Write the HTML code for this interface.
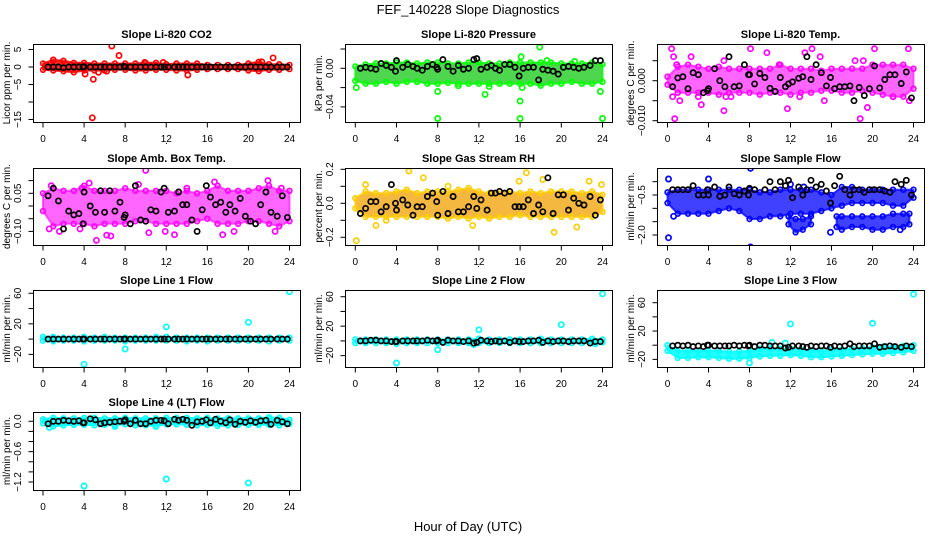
<!DOCTYPE html>
<html><head><meta charset="utf-8">
<style>
html,body{margin:0;padding:0;background:#fff;}
svg{display:block;font-family:"Liberation Sans",Arial,sans-serif;}
</style></head>
<body>
<svg id="chart" width="936" height="540" viewBox="0 0 936 540" xmlns="http://www.w3.org/2000/svg">
<rect x="0" y="0" width="936" height="540" fill="#fff"/>
<text x="468" y="14" text-anchor="middle" font-size="13">FEF_140228  Slope Diagnostics</text>
<text x="468" y="531" text-anchor="middle" font-size="13">Hour of Day (UTC)</text>
<g id="plots"></g>
</svg>
<script>
// ---------- shared data ----------
const xTicks = [0,4,8,12,16,20,24];
const hours = [0,1,2,3,4,5,6,7,8,9,10,11,12,13,14,15,16,17,18,19,20,21,22,23,24];
const blkX = [0.5,1,1.5,2,2.5,3,3.5,3.9,4,4.6,5.1,5.6,6,6.5,7,7.5,7.9,8,8.5,9,9.5,10,10.5,11,11.5,11.8,12.2,12.8,13.2,13.6,14,14.5,15,15.5,15.9,16.3,16.8,17.3,17.8,18.2,18.7,19.2,19.7,20.2,20.7,21.2,21.7,22.2,22.8,23.3,23.8];

// ---------- CO2 ----------
const co2Ticks = [5,0,-5,-10,-15];
const co2Labels = ['5','0','−5','','−15'];
const co2Hi = [1,2,1.8,1.2,1.2,1,1,1,1,1,1.2,1.2,0.8,1,1,1,0.6,0.6,0.6,0.6,1,1.5,0.8,0.8,0.6];
const co2Lo = [-0.8,-1,-1.2,-1.5,-1,-1,-1,-0.8,-0.8,-1,-1,-0.8,-0.8,-1,-1,-0.8,-0.6,-0.6,-0.6,-0.6,-1,-1.2,-0.8,-0.8,-0.6];
const co2OutX = [6.7,7.4,4.9,4.8,4.1,5.4,14.1,22.4,21.3,1,9.9,11.7,6.2];
const co2OutY = [6,3.3,-3.5,-14.5,-2,-1.5,-2.3,2.6,1.5,2,1.3,1.3,-1.2];
const co2Blk = [0,0,0,-0.2,0,0,0,0,0.1,0,0,0,0,0,0,0,0.2,0,0,0,0,0,0,0,0,0,0,0,0,0,0,0,0,0,0,0,0,0,0,0,0,0,0,0.1,0,0,0,0,0,0,0];

// ---------- Pressure ----------
const presTicks = [0.02,0,-0.02,-0.04];
const presLabels = ['','0.00','','−0.04'];
const presHi = [0.002,0.004,0.005,0.005,0.006,0.006,0.005,0.006,0.006,0.005,0.005,0.006,0.006,0.005,0.005,0.006,0.006,0.006,0.006,0.006,0.005,0.005,0.005,0.006,0.004];
const presLo = [-0.013,-0.016,-0.016,-0.014,-0.016,-0.014,-0.014,-0.016,-0.016,-0.015,-0.016,-0.016,-0.016,-0.016,-0.016,-0.016,-0.016,-0.016,-0.018,-0.016,-0.016,-0.014,-0.016,-0.016,-0.014];
const presOutX = [0.1,8,8,12.6,16,16,16.1,16.2,17.9,23.8,24,18.6,21.3,10,13];
const presOutY = [-0.02,-0.024,-0.052,-0.027,-0.034,-0.052,0.012,-0.02,0.022,-0.024,-0.052,0.008,0.007,-0.018,-0.019];
const presBlk = [0,0.001,0,-0.001,0.005,0.003,0.001,-0.003,0.008,0.001,0.004,0.002,0,-0.002,0.002,0.004,0.001,-0.001,0.009,0.002,-0.003,0.003,-0.001,0,0.009,0.01,-0.001,0.001,0.003,0,-0.002,0.004,0.004,0.001,-0.008,0,0.001,0.001,-0.012,-0.001,-0.002,-0.003,-0.006,0.001,0.002,0.001,0,0.001,0.003,0.008,0.008];

// ---------- Li-820 Temp ----------
const tempTicks = [0.005,0,-0.005,-0.01];
const tempLabels = ['','0.000','','−0.010'];
const tempHi = [0.001,0.0035,0.004,0.0035,0.003,0.0035,0.003,0.003,0.003,0.003,0.003,0.004,0.003,0.003,0.003,0.0025,0.003,0.003,0.003,0.003,0.004,0.004,0.004,0.004,0.003];
const tempLo = [-0.001,-0.003,-0.003,-0.003,-0.003,-0.0035,-0.003,-0.003,-0.003,-0.0035,-0.003,-0.003,-0.0035,-0.003,-0.003,-0.0025,-0.0025,-0.003,-0.003,-0.0025,-0.003,-0.0035,-0.004,-0.004,-0.002];
const tempOutX = [0.4,0.6,0.7,0.9,1.2,2.3,3.3,5.5,5.5,5.7,6.2,8.1,9.7,11.7,13.4,14.1,14.9,15.3,18.3,18.8,19.1,19.5,20.2,23.5,23.6,22,0.5,3,10.9,12.9];
const tempOutY = [0.008,0.006,-0.0095,0.004,-0.005,0.006,-0.006,0.005,-0.0075,-0.004,-0.004,0.008,0.007,-0.007,0.007,0.008,0.006,-0.005,0.005,-0.0095,0.005,-0.0067,0.008,0.008,-0.005,-0.004,-0.004,-0.004,0.004,-0.004];
const tempBlk = [-0.0015,0.0007,0.001,-0.002,0.002,0.0015,-0.003,-0.0025,-0.002,0.003,0,-0.0015,0.006,-0.0015,-0.0013,0.004,0.0015,0.0015,-0.0008,0.0018,0.0008,-0.0019,-0.0027,0.0008,-0.0015,-0.0008,-0.0003,0.0006,0.001,0.006,0.0003,0.004,0.002,-0.0013,0.0008,-0.002,-0.0015,-0.0015,-0.0013,-0.005,-0.0017,-0.0037,-0.002,0.0037,-0.0018,0.0003,0.0015,0.0015,-0.0007,0.0022,-0.0043];

// ---------- Amb. Box Temp ----------
const ambTicks = [0.1,0.05,0,-0.05,-0.1];
const ambLabels = ['','0.05','','','−0.10'];
const ambHi = [0.05,0.07,0.06,0.06,0.08,0.06,0.06,0.06,0.07,0.06,0.06,0.06,0.06,0.05,0.06,0.05,0.06,0.08,0.06,0.06,0.06,0.07,0.08,0.06,0.06];
const ambLo = [-0.02,-0.08,-0.07,-0.07,-0.07,-0.08,-0.07,-0.07,-0.07,-0.06,-0.06,-0.07,-0.07,-0.07,-0.07,-0.06,-0.05,-0.07,-0.07,-0.07,-0.06,-0.06,-0.07,-0.08,-0.06];
const ambOutX = [1.6,3.6,5.2,6.2,6.6,10,10.3,12.8,16.7,17.5,18.6,21.9,22.6,4.5,3.8,14,23.2,0.6,0.8,9.3,11.9];
const ambOutY = [-0.1,-0.09,-0.135,-0.115,-0.118,0.14,-0.105,-0.113,0.095,-0.113,-0.1,0.1,-0.1,0.09,0.07,0.07,0.07,-0.09,0.08,0.085,-0.1];
const ambBlk = [0.04,0.07,0.02,-0.09,-0.02,-0.035,-0.03,-0.07,0.055,0,-0.025,0.06,-0.025,0.06,-0.02,0.015,-0.045,-0.035,-0.07,0.08,-0.055,-0.06,-0.015,-0.02,0.055,0.07,-0.025,-0.02,0.055,0.005,0.005,-0.055,-0.1,-0.015,0.08,0.035,0.005,0.015,-0.025,0.005,-0.02,0.03,-0.04,-0.06,-0.07,0.005,0.055,-0.025,-0.04,0.04,-0.045];

// ---------- Gas Stream RH ----------
const rhTicks = [0.2,0.1,0,-0.1,-0.2];
const rhLabels = ['0.2','','0.0','','−0.2'];
const rhHi = [0.03,0.07,0.06,0.06,0.07,0.08,0.06,0.07,0.07,0.07,0.08,0.09,0.07,0.06,0.07,0.07,0.06,0.07,0.06,0.07,0.07,0.07,0.06,0.07,0.05];
const rhLo = [-0.03,-0.08,-0.08,-0.08,-0.08,-0.08,-0.08,-0.08,-0.08,-0.09,-0.08,-0.09,-0.08,-0.09,-0.08,-0.08,-0.07,-0.08,-0.08,-0.08,-0.08,-0.08,-0.08,-0.08,-0.05];
const rhOutX = [0.1,5.2,6.6,16.6,19.3,2,21.5,1,23.9,18.2,22.7,11.4,15.9,3,9];
const rhOutY = [-0.22,0.19,0.15,0.18,-0.17,-0.13,-0.14,0.11,0.11,0.14,0.13,-0.13,0.13,-0.1,0.1];
const rhBlk = [-0.06,-0.03,0.01,0.01,-0.05,-0.02,0.11,0,-0.04,0.02,-0.01,-0.07,-0.02,-0.02,0.04,0.06,0.01,-0.07,0.07,-0.06,0.04,-0.05,-0.05,-0.02,0.04,-0.03,0.02,-0.04,0.06,0.06,0.07,0.06,0.07,-0.02,-0.02,-0.02,0.02,-0.06,-0.01,-0.05,0.15,-0.06,0.05,0.05,-0.04,0.03,0,-0.01,0.04,-0.07,0.02];

// ---------- Sample Flow ----------
const flowTicks = [0,-0.5,-1,-1.5,-2];
const flowLabels = ['','−0.5','','','−2.0'];
const flowHi = [-0.4,-0.3,-0.3,-0.3,-0.3,-0.3,-0.3,-0.3,-0.3,-0.4,-0.4,-0.3,-0.3,-0.3,-0.3,-0.4,-0.5,-0.2,-0.2,-0.3,-0.3,-0.3,-0.3,-0.3,-0.3];
const flowLo = [-0.8,-1.2,-1.2,-1.2,-1.2,-1.1,-1.0,-1.1,-1.4,-1.4,-1.3,-1.3,-1.2,-1.2,-1.2,-1.1,-1.0,-0.9,-0.8,-0.8,-0.8,-0.8,-0.9,-0.9,-0.6];
const flowLowAX = [11.8,12.5,13.2,14];
const flowLowAHi = [-1.3,-1.4,-1.4,-1.3];
const flowLowALo = [-1.6,-1.9,-1.8,-1.6];
const flowLowBX = [16.5,17,18,19,20,21,22,23,23.6];
const flowLowBHi = [-1.3,-1.3,-1.3,-1.3,-1.3,-1.3,-1.2,-1.2,-1.2];
const flowLowBLo = [-1.7,-1.8,-1.7,-1.7,-1.8,-1.8,-1.7,-1.7,-1.6];
const flowOutX = [0.1,0.1,4,8.1,8.1,12,13.3,15.9,22.7,0.6];
const flowOutY = [0.1,-2.1,0.1,0.5,-2.45,-0.1,-0.2,-1.9,-1.8,-1.3];
const flowBlk = [-0.3,-0.3,-0.3,-0.3,-0.15,-0.5,-0.5,-0.3,-0.5,-0.2,-0.55,-0.5,-0.2,-0.45,-0.5,-0.35,-0.5,-0.25,-0.3,0.6,-0.3,0,-0.3,0,-0.15,0.05,-0.6,-0.2,-0.5,-0.3,0.05,-0.2,-0.1,-0.35,-0.8,-0.15,0.2,-0.3,-0.5,-0.3,-0.3,-0.4,-0.3,-0.3,-0.3,-0.35,-0.4,0,-0.1,0.05,-0.5];

// ---------- Line 1 ----------
const lineTicks = [60,40,20,0,-20];
const lineLabels = ['60','','20','','−20'];
const l1Hi = [3,3,2,2,3,2,3,2,2,2,2,3,3,2,2,2,2,2,2,2,2,2,2,2,2];
const l1Lo = [-2,-3,-2,-2,-3,-2,-2,-2,-3,-2,-2,-2,-2,-2,-3,-2,-3,-2,-2,-2,-2,-2,-3,-2,-2];
const l1OutX = [4,8,12,20,24];
const l1OutY = [-33,-13,16,22,62];
const l1Blk = [0,0,0,0,0,0,0,0,0,0,0,0,0,0,0,0,0,0,0,0,0,0,0,0,0,0,0,0,0,0,0,0,0,0,0,0,0,0,0,0,0,0,0,0,0,0,0,0,0,0,0];

// ---------- Line 2 ----------
const l2Hi = [2,2,2,2,2,2,2,2,2,2,2,2,3,2,2,2,2,2,3,2,2,2,2,3,2];
const l2Lo = [-3,-3,-3,-3,-4,-3,-3,-3,-3,-3,-3,-3,-3,-3,-3,-3,-3,-3,-3,-3,-3,-3,-3,-3,-2];
const l2OutX = [4,8,12,20,24,11.5,23.3];
const l2OutY = [-30,-12,15,22,64,-5,-4];
const l2Blk = [0,0,1,1,0,0,-1,-1,-1,0,0,0,0,0,1,0,0,1,-2,1,0,0,-1,0,-3,-2,1,0,-1,0,-1,0,-2,0,-1,-1,0,0,1,-2,0,-1,0,0,-1,0,0,0,-3,-1,-1];

// ---------- Line 3 ----------
const l3Hi = [0,-8,-8,-8,-8,-8,-9,-9,-8,-5,-5,-5,-5,-6,-7,-8,-6,-6,-5,-4,-3,-2,-2,-1,0];
const l3Lo = [-8,-18,-18,-17,-17,-18,-19,-19,-18,-16,-15,-15,-14,-15,-17,-17,-16,-15,-14,-13,-12,-12,-11,-10,-8];
const l3OutX = [8,12,20,24,11.5,10.2];
const l3OutY = [-25,30,31,72,3,4];
const l3Blk = [-1,0,-1,0,-2,-1,-2,0,0,-1,-1,-1,-1,0,-1,0,-1,0,-2,0,0,-1,-1,-1,-4,-3,-1,-1,-2,-3,-1,-2,-1,-1,-3,-1,-2,-1,2,-2,-1,-1,-1,2,-3,-2,-1,-2,-3,-1,-2];

// ---------- Line 4 ----------
const l4Ticks = [0,-0.2,-0.4,-0.6,-0.8,-1,-1.2];
const l4Labels = ['0.0','','','−0.6','','','−1.2'];
const l4Hi = [0.04,0.07,0.06,0.06,0.07,0.07,0.06,0.06,0.07,0.06,0.06,0.06,0.07,0.07,0.07,0.06,0.07,0.06,0.06,0.06,0.06,0.06,0.08,0.07,0.03];
const l4Lo = [-0.04,-0.1,-0.08,-0.07,-0.07,-0.08,-0.07,-0.07,-0.06,-0.08,-0.08,-0.09,-0.06,-0.06,-0.07,-0.08,-0.07,-0.09,-0.08,-0.07,-0.07,-0.07,-0.07,-0.08,-0.05];
const l4OutX = [4,12,20,0.6,11,7];
const l4OutY = [-1.28,-1.14,-1.22,-0.12,-0.1,-0.1];
const l4Blk = [-0.05,0,0,0.02,0.01,0,0.01,-0.03,-0.03,0.05,0.03,-0.05,-0.03,-0.02,-0.01,0,0,0.03,-0.05,0.02,-0.05,-0.05,0,0.02,0.02,0.01,-0.05,0.04,0.02,0.04,0.02,-0.08,-0.01,0,0.03,-0.03,0.04,0,-0.03,0.03,-0.06,0,-0.02,0.01,-0.02,0.01,0.02,-0.06,0.02,-0.01,-0.05];

// ---------- layout (not data) ----------
const cols = [{L:33,R:300,x0:43,x24:289.5},{L:345,R:612,x0:355.3,x24:602.5},{L:657,R:924,x0:667.5,x24:913.5}];
const rows = [{T:44,B:122},{T:168,B:245},{T:290,B:367},{T:412,B:490}];

const panels = [
 {name:'co2',title:'Slope Li-820 CO2',ylab:'Licor ppm per min.',c:0,r:0,color:'#ff0000',fill:'#ff0000',op:0.85,v0:0,p0:67,v1:5,p1:49.5,ticks:co2Ticks,labels:co2Labels,bands:[[hours,co2Hi,co2Lo]],ox:co2OutX,oy:co2OutY,blk:co2Blk},
 {name:'pressure',title:'Slope Li-820 Pressure',ylab:'kPa per min.',c:1,r:0,color:'#00ff00',fill:'#22cc22',op:0.8,v0:0,p0:68.3,v1:0.02,p1:49,ticks:presTicks,labels:presLabels,bands:[[hours,presHi,presLo]],ox:presOutX,oy:presOutY,blk:presBlk},
 {name:'li820-temp',title:'Slope Li-820 Temp.',ylab:'degrees C per min.',c:2,r:0,color:'#ff00ff',fill:'#ff00ff',op:0.6,v0:0,p0:80.7,v1:0.005,p1:60.7,ticks:tempTicks,labels:tempLabels,bands:[[hours,tempHi,tempLo]],ox:tempOutX,oy:tempOutY,blk:tempBlk},
 {name:'amb-box-temp',title:'Slope Amb. Box Temp.',ylab:'degrees C per min.',c:0,r:1,color:'#ff00ff',fill:'#ff00ff',op:0.6,v0:0,p0:206,v1:0.05,p1:193.3,ticks:ambTicks,labels:ambLabels,bands:[[hours,ambHi,ambLo]],ox:ambOutX,oy:ambOutY,blk:ambBlk},
 {name:'gas-stream-rh',title:'Slope Gas Stream RH',ylab:'percent per min.',c:1,r:1,color:'#ffcc00',fill:'#f0a000',op:0.75,v0:0,p0:203.3,v1:0.1,p1:186.3,ticks:rhTicks,labels:rhLabels,bands:[[hours,rhHi,rhLo]],ox:rhOutX,oy:rhOutY,blk:rhBlk},
 {name:'sample-flow',title:'Slope Sample Flow',ylab:'ml/min per min.',c:2,r:1,color:'#0000ff',fill:'#0000ff',op:0.75,v0:-0.5,p0:195,v1:-2,p1:235,ticks:flowTicks,labels:flowLabels,bands:[[hours,flowHi,flowLo],[flowLowAX,flowLowAHi,flowLowALo],[flowLowBX,flowLowBHi,flowLowBLo]],ox:flowOutX,oy:flowOutY,blk:flowBlk},
 {name:'line1-flow',title:'Slope Line 1 Flow',ylab:'ml/min per min.',c:0,r:2,color:'#00ffff',fill:'#00ffff',op:0.9,v0:0,p0:339.1,v1:60,p1:293.3,ticks:lineTicks,labels:lineLabels,bands:[[hours,l1Hi,l1Lo]],ox:l1OutX,oy:l1OutY,blk:l1Blk},
 {name:'line2-flow',title:'Slope Line 2 Flow',ylab:'ml/min per min.',c:1,r:2,color:'#00ffff',fill:'#00ffff',op:0.9,v0:0,p0:340.9,v1:60,p1:296.7,ticks:lineTicks,labels:lineLabels,bands:[[hours,l2Hi,l2Lo]],ox:l2OutX,oy:l2OutY,blk:l2Blk},
 {name:'line3-flow',title:'Slope Line 3 Flow',ylab:'ml/min per min.',c:2,r:2,color:'#00ffff',fill:'#00ffff',op:0.85,v0:0,p0:345.2,v1:60,p1:302.7,ticks:lineTicks,labels:lineLabels,bands:[[hours,l3Hi,l3Lo]],ox:l3OutX,oy:l3OutY,blk:l3Blk},
 {name:'line4-flow',title:'Slope Line 4 (LT) Flow',ylab:'ml/min per min.',c:0,r:3,color:'#00ffff',fill:'#00ffff',op:0.9,v0:0,p0:421.3,v1:-1.2,p1:482,ticks:l4Ticks,labels:l4Labels,bands:[[hours,l4Hi,l4Lo]],ox:l4OutX,oy:l4OutY,blk:l4Blk}
];

const NS='http://www.w3.org/2000/svg';
const root=document.getElementById('plots');
function el(tag,attrs,parent,txt){const e=document.createElementNS(NS,tag);for(const k in attrs)e.setAttribute(k,attrs[k]);if(txt!==undefined)e.textContent=txt;parent.appendChild(e);return e;}

panels.forEach(p=>{
  const col=cols[p.c], row=rows[p.r];
  const xs=v=>col.x0+(v/24)*(col.x24-col.x0);
  const ys=v=>p.p0+(v-p.v0)*(p.p1-p.p0)/(p.v1-p.v0);
  const g=el('g',{},root);
  
  
  const clipId='clip-'+p.name;
  const cp=el('clipPath',{id:clipId},g);
  el('rect',{x:col.L,y:row.T,width:col.R-col.L,height:row.B-row.T},cp);
  const data=el('g',{'clip-path':'url(#'+clipId+')'},g);
  
  
  p.bands.forEach(b=>{
    const [bx,bh,bl]=b;
    let pts=[];
    for(let i=0;i<bx.length;i++)pts.push(xs(bx[i]).toFixed(1)+','+ys(bh[i]).toFixed(1));
    for(let i=bx.length-1;i>=0;i--)pts.push(xs(bx[i]).toFixed(1)+','+ys(bl[i]).toFixed(1));
    const poly=el('polygon',{points:pts.join(' '),fill:p.fill,'fill-opacity':p.op,stroke:p.color,'stroke-opacity':p.op,'stroke-width':2,'stroke-linejoin':'round'},data);
    
    
    for(let i=0;i<bx.length;i++){
      [bh[i],bl[i]].forEach(v=>{
        const c=el('circle',{cx:xs(bx[i]).toFixed(1),cy:ys(v).toFixed(1),r:2.4,fill:'none',stroke:p.color,'stroke-width':1.6},data);
        
        
      });
    }
  });
  for(let i=0;i<Math.min(p.ox.length,p.oy.length);i++){
    const c=el('circle',{cx:xs(p.ox[i]).toFixed(1),cy:ys(p.oy[i]).toFixed(1),r:2.6,fill:'none',stroke:p.color,'stroke-width':1.7},data);
    
    
  }
  const n=Math.min(blkX.length,p.blk.length);
  for(let i=0;i<n;i++){
    const c=el('circle',{cx:xs(blkX[i]).toFixed(1),cy:ys(p.blk[i]).toFixed(1),r:2.6,fill:'none',stroke:'#000','stroke-width':1.7},data);
    
    
  }
  const box=el('rect',{x:col.L+0.5,y:row.T+0.5,width:col.R-col.L,height:row.B-row.T,fill:'none',stroke:'#000','stroke-width':1},g);
  
  
  const t=el('text',{x:(col.L+col.R)/2,y:row.T-6,'text-anchor':'middle','font-size':11,'font-weight':'bold'},g,p.title);
  
  
  const xa=el('g',{},g);
  
  
  xTicks.forEach(v=>{
    const x=xs(v);
    el('line',{x1:x,x2:x,y1:row.B+0.5,y2:row.B+5.5,stroke:'#000'},xa);
    const lt=el('text',{x:x,y:row.B+20,'text-anchor':'middle','font-size':10},xa,String(v));
    
    
  });
  el('text',{x:(col.L+col.R)/2,y:row.B+22,'text-anchor':'middle','font-size':10},xa,'.');
  const ya=el('g',{},g);
  
  
  p.ticks.forEach((v,i)=>{
    const y=ys(v);
    el('line',{x1:col.L+0.5,x2:col.L-4.5,y1:y,y2:y,stroke:'#000'},ya);
    if(p.labels[i]){
      const lt=el('text',{x:0,y:0,transform:'translate('+(col.L-12)+','+y.toFixed(1)+') rotate(-90)','text-anchor':'middle','font-size':10},ya,p.labels[i]);
      
      
    }
  });
  const yl=el('text',{x:0,y:0,transform:'translate('+(col.L-23)+','+((row.T+row.B)/2)+') rotate(-90)','text-anchor':'middle','font-size':10},ya,p.ylab);
  
  
});
</script>
</body></html>
